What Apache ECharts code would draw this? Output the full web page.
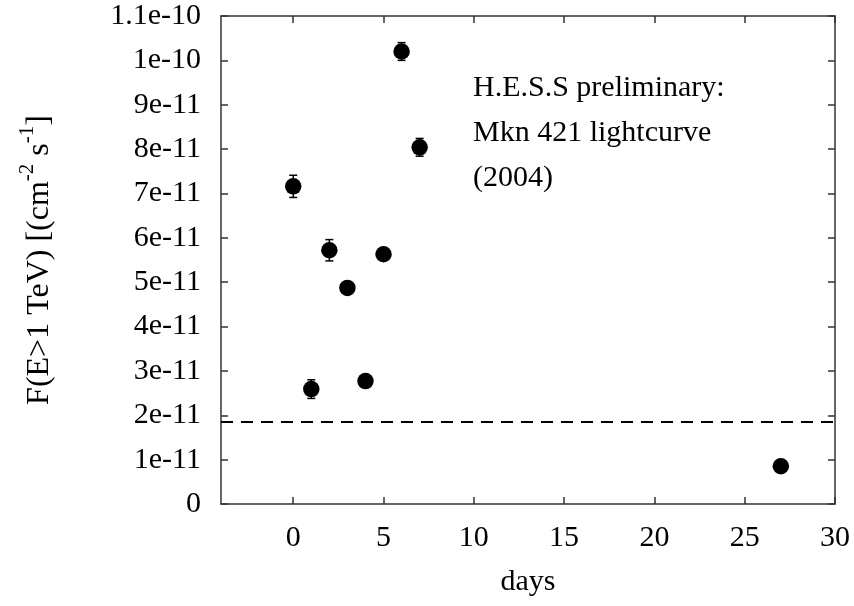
<!DOCTYPE html>
<html>
<head>
<meta charset="utf-8">
<script src="https://cdn.jsdelivr.net/npm/echarts@6/dist/echarts.min.js"></script>
<style>
  html, body { margin: 0; padding: 0; background: #fff; }
  #chart { width: 854px; height: 606px; }
</style>
</head>
<body>
<div id="chart"></div>
<script>
// H.E.S.S. Mkn 421 light curve, 2004
var days = [0, 1, 2, 3, 4, 5, 6, 7, 27];
var flux = [7.16e-11, 2.59e-11, 5.72e-11, 4.87e-11, 2.77e-11, 5.63e-11, 1.02e-10, 8.04e-11, 0.85e-11];
var fluxErr = [0.25e-11, 0.21e-11, 0.24e-11, 0.1e-11, 0.1e-11, 0.12e-11, 0.2e-11, 0.2e-11, 0.1e-11];
var thresholdX = [-4, 30];
var thresholdY = [1.85e-11, 1.85e-11]; // dashed level

var xTicks = [0, 5, 10, 15, 20, 25, 30];
var yTickLabels = ['0', '1e-11', '2e-11', '3e-11', '4e-11', '5e-11', '6e-11', '7e-11', '8e-11', '9e-11', '1e-10', '1.1e-10'];

var FONT = 'Liberation Serif';
var AXIS_COLOR = '#333';

var chart = echarts.init(document.getElementById('chart'), null, { renderer: 'canvas' });

var points = days.map(function (d, i) { return [d, flux[i]]; });
var bars = days.map(function (d, i) { return [d, flux[i] - fluxErr[i], flux[i] + fluxErr[i]]; });
var thresholdLine = thresholdX.map(function (x, i) { return [x, thresholdY[i]]; });

function errorBar(params, api) {
  var lo = api.coord([api.value(0), api.value(1)]);
  var hi = api.coord([api.value(0), api.value(2)]);
  var half = 4;
  var st = { stroke: '#000', lineWidth: 1.5 };
  return {
    type: 'group',
    children: [
      { type: 'line', shape: { x1: lo[0], y1: lo[1], x2: hi[0], y2: hi[1] }, style: st },
      { type: 'line', shape: { x1: lo[0] - half, y1: lo[1], x2: lo[0] + half, y2: lo[1] }, style: st },
      { type: 'line', shape: { x1: hi[0] - half, y1: hi[1], x2: hi[0] + half, y2: hi[1] }, style: st }
    ]
  };
}

var xCommon = {
  type: 'value', min: -4, max: 30,
  axisLine: { show: true, onZero: false, lineStyle: { color: AXIS_COLOR, width: 1.5 } },
  axisTick: { show: true, inside: true, length: 7, customValues: xTicks, lineStyle: { color: AXIS_COLOR, width: 1.5 } },
  splitLine: { show: false }
};
var yCommon = {
  type: 'value', min: 0, max: 1.1e-10, interval: 1e-11,
  axisLine: { show: true, onZero: false, lineStyle: { color: AXIS_COLOR, width: 1.5 } },
  axisTick: { show: true, inside: true, length: 7, lineStyle: { color: AXIS_COLOR, width: 1.5 } },
  splitLine: { show: false }
};

var option = {
  backgroundColor: '#fff',
  animation: false,
  grid: { left: 221, right: 19, top: 16, bottom: 102, containLabel: false },
  xAxis: [
    Object.assign({}, xCommon, {
      position: 'bottom',
      name: 'days', nameLocation: 'middle', nameGap: 63,
      nameTextStyle: { fontFamily: FONT, fontSize: 30, color: '#000' },
      axisLabel: { show: true, customValues: xTicks, margin: 19, fontFamily: FONT, fontSize: 30, color: '#000' }
    }),
    Object.assign({}, xCommon, { position: 'top', axisLabel: { show: false } })
  ],
  yAxis: [
    Object.assign({}, yCommon, {
      position: 'left',
      name: 'F(E>1 TeV) [(cm{sup|-2} s{sup|-1}]',
      nameLocation: 'middle', nameGap: 158,
      nameTextStyle: {
        fontFamily: FONT, fontSize: 32, color: '#000', lineHeight: 46,
        rich: {
          sup: { fontFamily: FONT, fontSize: 21, color: '#000', lineHeight: 4, verticalAlign: 'top' }
        }
      },
      axisLabel: {
        show: true, margin: 20, fontFamily: FONT, fontSize: 30, color: '#000',
        formatter: function (v) { return yTickLabels[Math.round(v / 1e-11)]; }
      }
    }),
    Object.assign({}, yCommon, { position: 'right', axisLabel: { show: false } })
  ],
  graphic: [{
    type: 'text', left: 473, top: 66,
    style: {
      text: 'H.E.S.S preliminary:\nMkn 421 lightcurve\n(2004)',
      fontFamily: FONT, fontSize: 30, lineHeight: 45, fill: '#000'
    }
  }],
  series: [
    {
      type: 'line', data: thresholdLine, symbol: 'none', z: 2, silent: true,
      lineStyle: { color: '#000', width: 2, type: [12, 8] }
    },
    {
      type: 'custom', renderItem: errorBar, data: bars, z: 3,
      encode: { x: 0, y: [1, 2] }
    },
    {
      type: 'scatter', data: points, symbol: 'circle', symbolSize: 16.5, z: 4,
      itemStyle: { color: '#000', opacity: 1 }
    }
  ]
};

chart.setOption(option);
</script>
</body>
</html>
